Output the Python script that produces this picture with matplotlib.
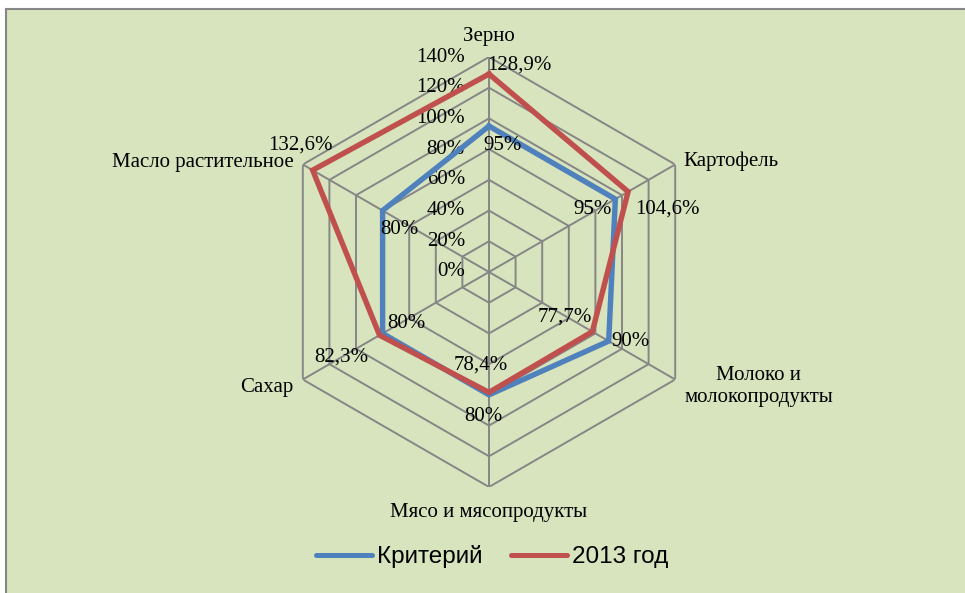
import numpy as np
import matplotlib.pyplot as plt
from matplotlib.patches import Rectangle
from matplotlib.lines import Line2D

categories = ["Зерно", "Картофель", "Молоко и\nмолокопродукты",
              "Мясо и мясопродукты", "Сахар", "Масло растительное"]
criterion = [95, 95, 90, 80, 80, 80]
year_2013 = [128.9, 104.6, 77.7, 78.4, 82.3, 132.6]
criterion_labels = ["95%", "95%", "90%", "80%", "80%", "80%"]
year_labels = ["128,9%", "104,6%", "77,7%", "78,4%", "82,3%", "132,6%"]
rings = [0, 20, 40, 60, 80, 100, 120, 140]

BLUE = "#4f81bd"
RED = "#c0504d"
GRID = "#868686"
BG = "#d7e4bd"
FS = 15

serif = ["Liberation Serif", "DejaVu Serif"]
plt.rcParams["font.family"] = serif

fig = plt.figure(figsize=(9.65, 5.93), dpi=100)
fig.patch.set_facecolor("white")
fig.patches.append(Rectangle((6 / 965, -0.01), 1.0, 1 - 9 / 593 + 0.01,
                             transform=fig.transFigure, facecolor=BG,
                             edgecolor=GRID, linewidth=1.5, zorder=-5))

# polar axes centred at (489, 272) px, radius 215 px for 140 %
cx, cy, rad = 489 / 965, 1 - 272 / 593, 215
w, h = 2 * rad / 965, 2 * rad / 593
ax = fig.add_axes([cx - w / 2, cy - h / 2, w, h], projection="polar")
ax.set_theta_offset(np.pi / 2)
ax.set_theta_direction(-1)
ax.set_ylim(0, 140)
ax.set_axis_off()

n = len(categories)
theta = np.arange(n) * 2 * np.pi / n
closed = np.append(theta, theta[0])

# hexagonal grid
for r in rings[1:]:
    ax.plot(closed, [r] * (n + 1), color=GRID, lw=1.4, zorder=1)
for t in theta:
    ax.plot([t, t], [0, rings[-1]], color=GRID, lw=1.4, zorder=1)

# radial tick labels along the top axis
for r in rings:
    ax.annotate(f"{r}%", (0, r), xytext=(-24, 0), textcoords="offset pixels",
                ha="right", va="center", fontsize=FS)

# series
ax.plot(closed, criterion + criterion[:1], color=BLUE, lw=3.9, zorder=3,
        solid_joinstyle="miter")
ax.plot(closed, year_2013 + year_2013[:1], color=RED, lw=3.9, zorder=4,
        solid_joinstyle="miter")

# category labels (offset px, ha)
cat_pos = [((0, 20), "center"), ((8, 3), "left"), ((9, -7), "left"),
           ((0, -25), "center"), ((-9, -8), "right"), ((-9, 2), "right")]
for t, name, (off, ha) in zip(theta, categories, cat_pos):
    ax.annotate(name, (t, rings[-1]), xytext=off, textcoords="offset pixels",
                ha=ha, va="center", multialignment="center", fontsize=FS,
                linespacing=1.15)

# data labels
blue_pos = [((-6, -19), "left"), ((-4, -10), "right"), ((3, 0), "left"),
            ((-6, -22), "center"), ((5, 10), "left"), ((-2, -19), "left")]
red_pos = [((-2, 9), "left"), ((7, -17), "left"), ((0, 15), "right"),
           ((-8, 27), "center"), ((-11, -22), "right"), ((-12, 25), "center")]
for t, v, lab, (off, ha) in zip(theta, criterion, criterion_labels, blue_pos):
    ax.annotate(lab, (t, v), xytext=off, textcoords="offset pixels",
                ha=ha, va="center", fontsize=FS, zorder=5)
for t, v, lab, (off, ha) in zip(theta, year_2013, year_labels, red_pos):
    ax.annotate(lab, (t, v), xytext=off, textcoords="offset pixels",
                ha=ha, va="center", fontsize=FS, zorder=5)

handles = [Line2D([], [], color=BLUE, lw=3.6, solid_capstyle="round"),
           Line2D([], [], color=RED, lw=3.6, solid_capstyle="round")]
fig.legend(handles, ["Критерий", "2013 год"], loc="center",
           bbox_to_anchor=(492 / 965, 1 - 557 / 593), ncol=2, frameon=False,
           prop={"family": ["Liberation Sans", "DejaVu Sans"], "size": 17.5},
           handlelength=2.3, handletextpad=0.2, columnspacing=1.2)

fig.savefig("out.png", dpi=100, facecolor=fig.get_facecolor())
